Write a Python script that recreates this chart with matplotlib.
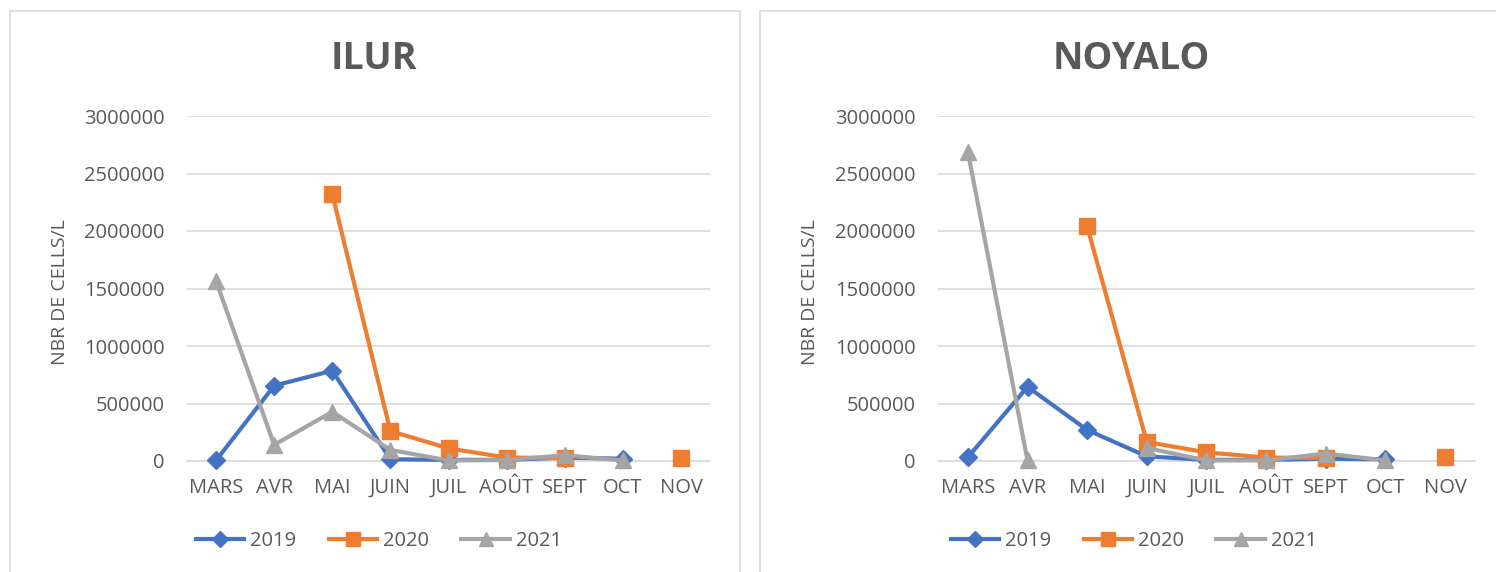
import numpy as np
import matplotlib.pyplot as plt
from matplotlib.patches import Rectangle

plt.rcParams['font.family'] = ['Open Sans', 'DejaVu Sans']

#=========================================================================================
# data read off the picture (nan = no measurement)

months = ['MARS', 'AVR', 'MAI', 'JUIN', 'JUIL', 'AOÛT', 'SEPT', 'OCT', 'NOV']
years = ['2019', '2020', '2021']

ilur_2019 = [5000, 655000, 785000, 15000, 10000, 10000, 30000, 20000, np.nan]
ilur_2020 = [np.nan, np.nan, 2320000, 260000, 110000, 30000, 25000, np.nan, 25000]
ilur_2021 = [1565000, 140000, 428000, 96000, 5000, 8000, 50000, 5000, np.nan]

noyalo_2019 = [32000, 645000, 270000, 40000, 10000, 10000, 20000, 15000, np.nan]
noyalo_2020 = [np.nan, np.nan, 2040000, 165000, 75000, 30000, 25000, np.nan, 37000]
noyalo_2021 = [2690000, 5000, np.nan, 113000, 5000, 5000, 65000, 5000, np.nan]

yticks = [0, 500000, 1000000, 1500000, 2000000, 2500000, 3000000]

#=========================================================================================

colors = ['#4472C4', '#ED7D31', '#A5A5A5']
markers = ['D', 's', '^']
msizes = [9, 11, 11]
txt = '#595959'

W, H = 1496, 572
fig = plt.figure(figsize=(W / 100, H / 100), dpi=100)

# chart frames
fig.patches.append(Rectangle((10 / W, -0.05), 730 / W, 1 - 11 / H + 0.05,
                             transform=fig.transFigure, fill=False,
                             edgecolor='#d9d9d9', linewidth=1.2))
fig.patches.append(Rectangle((760 / W, -0.05), 760 / W, 1 - 11 / H + 0.05,
                             transform=fig.transFigure, fill=False,
                             edgecolor='#d9d9d9', linewidth=1.2))

panels = [
    ('ILUR', [ilur_2019, ilur_2020, ilur_2021], 187, 710, 374, 60, 379),
    ('NOYALO', [noyalo_2019, noyalo_2020, noyalo_2021], 938, 1475, 1131, 810, 1134),
]

x = np.arange(len(months))
for title, series, x0, x1, tx, ylx, lgx in panels:
    ax = fig.add_axes([x0 / W, 1 - 461 / H, (x1 - x0) / W, (461 - 116) / H])
    for i in range(3):
        ax.plot(x, series[i], color=colors[i], marker=markers[i],
                markersize=msizes[i], linewidth=3, label=years[i],
                clip_on=False, zorder=3 + i)
    ax.set_xlim(-0.5, len(months) - 0.5)
    ax.set_ylim(0, 3000000)
    ax.set_yticks(yticks)
    ax.set_yticklabels([str(v) for v in yticks])
    ax.set_xticks(x)
    ax.set_xticklabels(months)
    ax.tick_params(axis='y', length=0, pad=16, labelsize=14.5, labelcolor=txt)
    ax.tick_params(axis='x', length=0, pad=12, labelsize=14.5, labelcolor=txt)
    ax.grid(axis='y', color='#d9d9d9', linewidth=1.2)
    ax.set_axisbelow(True)
    for s in ['top', 'right', 'left']:
        ax.spines[s].set_visible(False)
    ax.spines['bottom'].set_color('#d9d9d9')
    ax.spines['bottom'].set_linewidth(1.2)

    fig.text(tx / W, 1 - 59 / H, title, ha='center', va='center',
             fontsize=27, fontweight='bold', color=txt)
    fig.text(ylx / W, 1 - 292 / H, 'NBR DE CELLS/L', rotation=90,
             ha='center', va='center', fontsize=14, color=txt)

    ax.legend(loc='center', bbox_to_anchor=(lgx / W, 1 - 541 / H),
              bbox_transform=fig.transFigure, ncol=3, frameon=False,
              fontsize=14.5, labelcolor=txt, handlelength=2.4,
              handletextpad=0.3, columnspacing=1.6, markerscale=0.9)

plt.savefig('out.png', dpi=100)
plt.close()
